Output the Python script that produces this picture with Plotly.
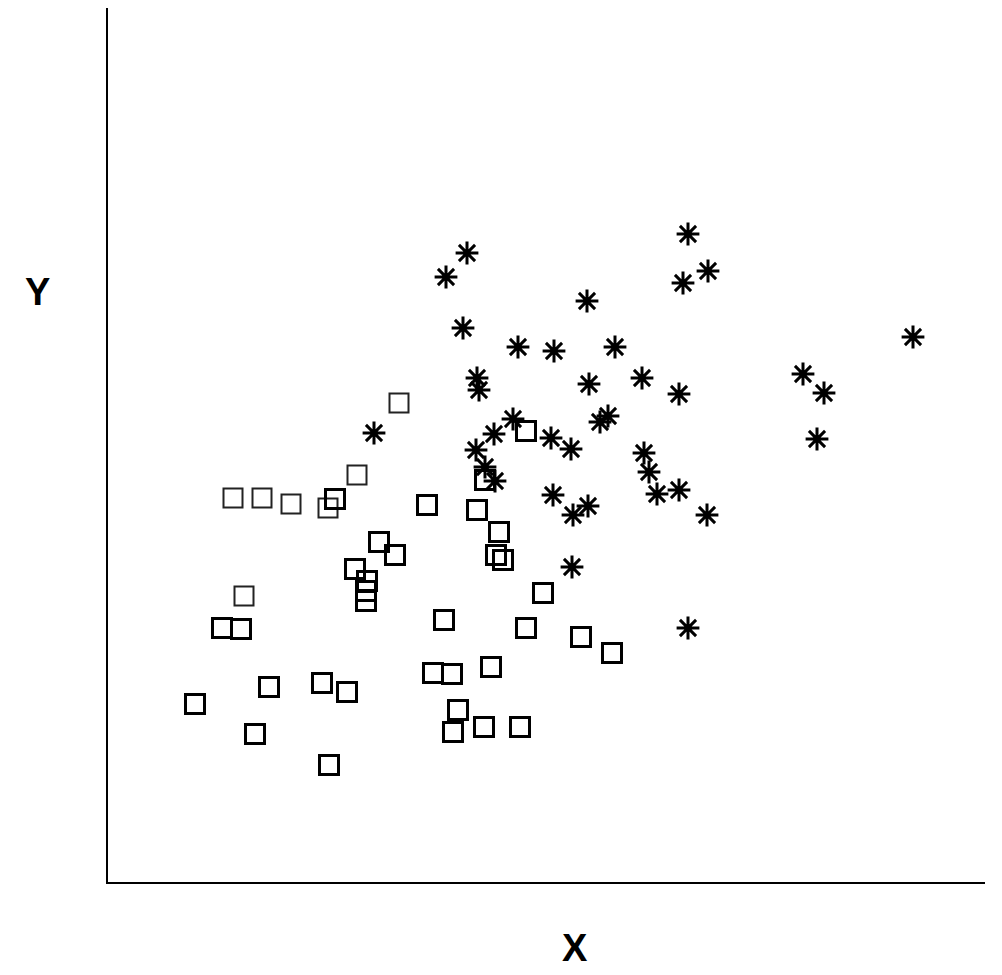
import plotly.graph_objects as go

# Solid open squares (x, y in plot units)
sq_x = [114, 133, 161, 214, 239, 87, 147, 221, 336, 418, 325, 344, 383, 350, 345, 376, 412,
        473, 504, 435, 319, 369, 391, 388, 395, 377, 418, 271, 287, 247, 259, 258, 258, 227]
sq_y = [254, 253, 195, 199, 190, 178, 148, 117, 262, 254, 209, 208, 215, 172, 150, 155, 155,
        245, 229, 289, 377, 372, 350, 327, 322, 402, 451, 340, 327, 313, 301, 291, 281, 383]

# Faint (dashed-looking) open squares
dsq_x = [125, 154, 183, 220, 249, 291, 136]
dsq_y = [384, 384, 378, 374, 407, 479, 286]

# Asterisks
ast_x = [359, 338, 580, 600, 575, 479, 355, 410, 446, 507, 805, 369, 371, 481, 534, 571, 695,
         716, 709, 500, 492, 405, 386, 266, 443, 463, 368, 536, 377, 387, 541, 549, 571, 445,
         465, 480, 599, 464, 580]
ast_y = [629, 605, 648, 611, 599, 581, 554, 535, 531, 535, 545, 504, 492, 498, 504, 488, 508,
         489, 443, 466, 460, 463, 448, 449, 444, 433, 432, 429, 415, 401, 410, 388, 392, 387,
         367, 376, 367, 315, 254]

fig = go.Figure()
fig.add_trace(go.Scatter(x=dsq_x, y=dsq_y, mode="markers", cliponaxis=False,
                         marker=dict(symbol="square-open", size=19, color="#222222",
                                     line=dict(width=2, color="#222222"))))
fig.add_trace(go.Scatter(x=sq_x, y=sq_y, mode="markers", cliponaxis=False,
                         marker=dict(symbol="square-open", size=19, color="black",
                                     line=dict(width=3, color="black"))))
fig.add_trace(go.Scatter(x=ast_x, y=ast_y, mode="markers", cliponaxis=False,
                         marker=dict(symbol="asterisk-open", size=19, color="black",
                                     line=dict(width=3, color="black"))))

lab_font = dict(family="Liberation Sans, Arial", size=38, color="black")
fig.update_layout(
    width=1002, height=975,
    margin=dict(l=100, r=25, t=0, b=101),
    plot_bgcolor="white", paper_bgcolor="white",
    showlegend=False,
    xaxis=dict(range=[0, 877], showgrid=False, zeroline=False, showticklabels=False,
               ticks="", showline=True, linecolor="black", linewidth=2),
    yaxis=dict(range=[0, 874], showgrid=False, zeroline=False, showticklabels=False,
               ticks="", showline=True, linecolor="black", linewidth=2),
    annotations=[
        dict(text="<b>Y</b>", x=(37 - 108) / 877, y=(882 - 292) / 874, xref="paper", yref="paper",
             xanchor="center", yanchor="middle", showarrow=False, font=lab_font),
        dict(text="<b>X</b>", x=(575 - 108) / 877, y=(882 - 948) / 874, xref="paper", yref="paper",
             xanchor="center", yanchor="middle", showarrow=False, font=lab_font),
    ],
)

fig.write_html("out.html")
